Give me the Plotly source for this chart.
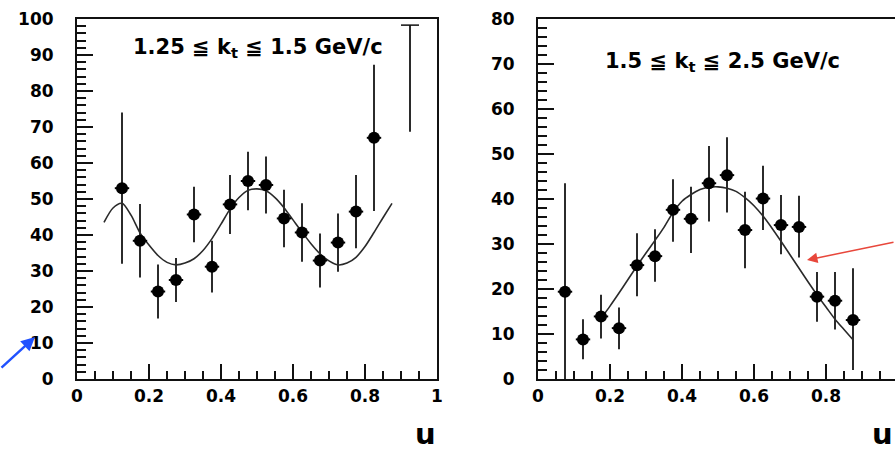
import plotly.graph_objects as go

# ---------------- data: left panel (1.25 <= k_t <= 1.5 GeV/c) ----------------
u_left = [0.125, 0.175, 0.225, 0.275, 0.325, 0.375, 0.425, 0.475,
          0.525, 0.575, 0.625, 0.675, 0.725, 0.775, 0.825]
y_left = [53.0, 38.4, 24.3, 27.5, 45.7, 31.2, 48.5, 55.0,
          53.9, 44.6, 40.7, 32.9, 37.9, 46.5, 67.0]
err_left = [21.0, 10.2, 7.5, 6.1, 7.7, 7.2, 8.2, 8.1,
            7.9, 8.0, 8.1, 7.5, 8.1, 10.2, 20.3]
# last bin, point above the frame: only its error bar and bin-width bar are visible
u_left_over = [0.925]
y_left_over = [98.3]
err_left_over_minus = [29.6]

# fitted curve
u_fit_left = [0.075, 0.1, 0.125, 0.15, 0.175, 0.2, 0.225, 0.25, 0.275, 0.3,
              0.325, 0.35, 0.375, 0.4, 0.425, 0.45, 0.475, 0.5, 0.525, 0.55,
              0.575, 0.6, 0.625, 0.65, 0.675, 0.7, 0.725, 0.75, 0.775, 0.8,
              0.825, 0.85, 0.875]
y_fit_left = [43.5, 47.5, 48.8, 45.5, 40.6, 37.2, 34.3, 32.4, 31.7, 32.2,
              33.4, 35.7, 39.0, 43.0, 47.2, 50.4, 52.4, 52.8, 52.3, 50.4,
              47.6, 44.2, 40.8, 37.6, 34.8, 32.8, 31.7, 32.2, 33.8, 36.8,
              40.7, 44.8, 48.8]

# ---------------- data: right panel (1.5 <= k_t <= 2.5 GeV/c) ----------------
u_right = [0.075, 0.125, 0.175, 0.225, 0.275, 0.325, 0.375, 0.425, 0.475,
           0.525, 0.575, 0.625, 0.675, 0.725, 0.775, 0.825, 0.875]
y_right = [19.4, 8.8, 13.9, 11.3, 25.3, 27.3, 37.6, 35.6, 43.5,
           45.3, 33.1, 40.1, 34.2, 33.8, 18.3, 17.4, 13.1]
err_right_plus = [24.1, 4.5, 4.8, 4.6, 7.1, 6.0, 6.8, 7.1, 8.3,
                  8.4, 8.5, 7.3, 6.7, 6.9, 5.5, 6.4, 11.5]
err_right_minus = [19.4, 4.4, 4.9, 4.7, 6.9, 5.7, 7.1, 7.6, 8.5,
                   8.3, 8.5, 7.0, 6.5, 6.8, 5.6, 6.4, 11.1]

u_fit_right = [0.18, 0.2, 0.225, 0.25, 0.275, 0.3, 0.325, 0.35, 0.375, 0.4,
               0.425, 0.45, 0.475, 0.5, 0.525, 0.55, 0.575, 0.6, 0.625, 0.65,
               0.675, 0.7, 0.725, 0.75, 0.775, 0.8, 0.825, 0.85, 0.875]
y_fit_right = [14.0, 16.2, 19.1, 22.1, 25.1, 28.0, 30.8, 33.7, 37.0, 39.5,
               41.0, 42.1, 42.6, 42.7, 42.4, 41.7, 40.3, 38.5, 36.2, 33.5,
               30.6, 27.6, 24.6, 21.6, 18.7, 16.0, 13.3, 11.0, 8.7]

bin_half_width = 0.02

x_ticks = [0, 0.2, 0.4, 0.6, 0.8, 1]
x_tick_text = ["0", "0.2", "0.4", "0.6", "0.8", "1"]
y_ticks_left = list(range(0, 101, 10))
y_ticks_right = list(range(0, 81, 10))

label_left = "1.25 ≦ k<sub>t</sub> ≦ 1.5 GeV/c"
label_right = "1.5 ≦ k<sub>t</sub> ≦ 2.5 GeV/c"
x_title = "u"

# ---------------- figure ----------------
W, H = 895, 452
INK = "#111111"
BAR = "#2b2b2b"
TICKFONT = dict(family="DejaVu Sans", size=17, color="black", weight="bold")

fig = go.Figure()

def add_points(x, y, ep, em, xa, ya):
    fig.add_trace(go.Scatter(
        x=x, y=y, mode="markers", xaxis=xa, yaxis=ya, showlegend=False,
        marker=dict(symbol="circle", size=12, color="black"),
        error_y=dict(type="data", symmetric=False, array=ep, arrayminus=em,
                     thickness=2, width=0, color=BAR),
        error_x=dict(type="constant", value=bin_half_width, thickness=2,
                     width=0, color="black"),
    ))

def add_curve(x, y, xa, ya):
    fig.add_trace(go.Scatter(
        x=x, y=y, mode="lines", xaxis=xa, yaxis=ya, showlegend=False,
        line=dict(color="#2a2a2a", width=1.6, shape="spline", smoothing=0.8),
    ))

add_curve(u_fit_left, y_fit_left, "x", "y")
add_points(u_left, y_left, err_left, err_left, "x", "y")
fig.add_trace(go.Scatter(
    x=u_left_over, y=y_left_over, mode="markers", xaxis="x", yaxis="y",
    showlegend=False, marker=dict(size=0.1, color="rgba(0,0,0,0)"),
    error_y=dict(type="data", symmetric=False, array=[0],
                 arrayminus=err_left_over_minus, thickness=2, width=0, color=BAR),
    error_x=dict(type="constant", value=0.025, thickness=1.5, width=0, color=INK),
))

add_curve(u_fit_right, y_fit_right, "x2", "y2")
add_points(u_right, y_right, err_right_plus, err_right_minus, "x2", "y2")

# layout geometry in pixels
L_LEFT, L_RIGHT = 77, 437
R_LEFT = 538
TOP, BOTTOM = 19, 379
dom_y = [1 - BOTTOM / H, 1 - TOP / H]
right_range_end = (W - R_LEFT) / (L_RIGHT - L_LEFT)

axis_common = dict(showgrid=False, zeroline=False, showline=True,
                   linecolor=INK, linewidth=2, ticks="inside",
                   tickcolor=INK, tickwidth=1.5, tickfont=TICKFONT,
                   automargin=False)

fig.update_layout(
    width=W, height=H,
    margin=dict(l=0, r=0, t=0, b=0),
    paper_bgcolor="white", plot_bgcolor="white",
    showlegend=False,
    xaxis=dict(domain=[L_LEFT / W, L_RIGHT / W], range=[0, 1], anchor="y",
               mirror=True, tickvals=x_ticks, ticktext=x_tick_text,
               ticklen=15, ticklabelstandoff=1,
               minor=dict(ticks="inside", dtick=0.05, tick0=0, ticklen=8,
                          tickcolor=INK, tickwidth=1.5),
               **axis_common),
    yaxis=dict(domain=dom_y, range=[0, 100], anchor="x", mirror=True,
               tickvals=y_ticks_left, ticklen=16, ticklabelstandoff=18,
               minor=dict(ticks="inside", dtick=2, tick0=0, ticklen=9,
                          tickcolor=INK, tickwidth=1.5),
               **axis_common),
    xaxis2=dict(domain=[R_LEFT / W, 1], range=[0, right_range_end], anchor="y2",
                mirror=True, tickvals=x_ticks, ticktext=x_tick_text,
                ticklen=15, ticklabelstandoff=1,
                minor=dict(ticks="inside", dtick=0.05, tick0=0, ticklen=8,
                           tickcolor=INK, tickwidth=1.5),
                **axis_common),
    yaxis2=dict(domain=dom_y, range=[0, 80], anchor="x2", mirror=False,
                tickvals=y_ticks_right, ticklen=16, ticklabelstandoff=18,
                minor=dict(ticks="inside", dtick=2, tick0=0, ticklen=9,
                           tickcolor=INK, tickwidth=1.5),
                **axis_common),
)

text_font = dict(family="DejaVu Sans", size=21, color="black", weight="bold")
fig.add_annotation(x=258 / W, y=1 - 48 / H, xref="paper", yref="paper",
                   text=label_left, showarrow=False, font=text_font,
                   xanchor="center", yanchor="middle")
fig.add_annotation(x=722 / W, y=1 - 62 / H, xref="paper", yref="paper",
                   text=label_right, showarrow=False, font=text_font,
                   xanchor="center", yanchor="middle")

u_font = dict(family="DejaVu Sans", size=29, color="black", weight="bold")
fig.add_annotation(x=425 / W, y=0, xref="paper", yref="paper",
                   text=x_title, showarrow=False, font=u_font,
                   xanchor="center", yanchor="bottom", borderpad=0)
fig.add_annotation(x=882 / W, y=0, xref="paper", yref="paper",
                   text=x_title, showarrow=False, font=u_font,
                   xanchor="center", yanchor="bottom", borderpad=0)

# pointer arrows
fig.add_annotation(x=35 / W, y=1 - 337 / H, xref="paper", yref="paper",
                   ax=-40, ay=32, axref="pixel", ayref="pixel", text="",
                   showarrow=True, arrowhead=2, arrowsize=1.1, arrowwidth=2.5,
                   arrowcolor="#2152ff", standoff=0)
fig.add_annotation(x=807 / W, y=1 - 260 / H, xref="paper", yref="paper",
                   ax=93, ay=-18, axref="pixel", ayref="pixel", text="",
                   showarrow=True, arrowhead=2, arrowsize=1.4, arrowwidth=1.5,
                   arrowcolor="#e8473b", standoff=0)

fig.write_html(
    "out.html",
    config={"displayModeBar": False},
    post_script="document.body.style.margin='0';document.body.style.overflow='hidden';",
)
